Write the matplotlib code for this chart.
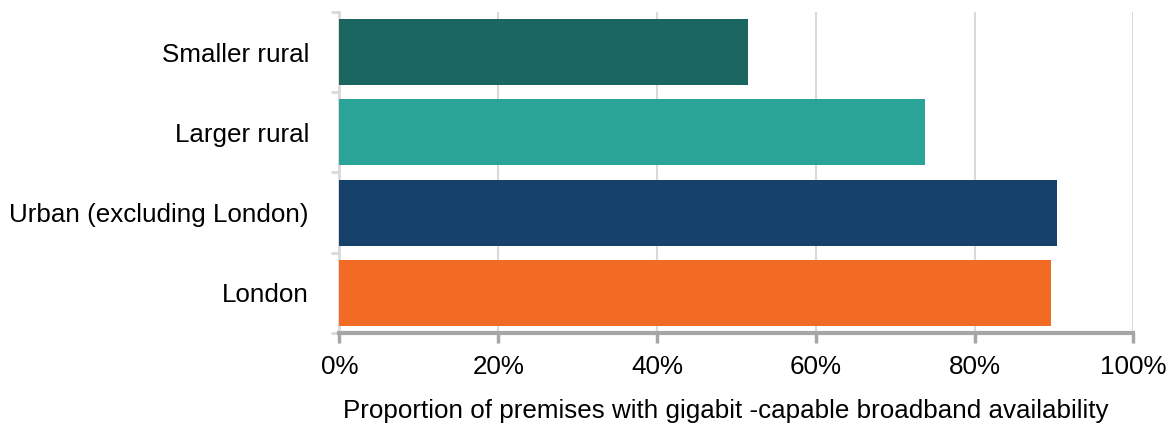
import numpy as np
import matplotlib.pyplot as plt
from matplotlib.ticker import FixedLocator, PercentFormatter

plt.rcParams['font.family'] = ['Liberation Sans', 'DejaVu Sans']

# Data (top to bottom as shown)
categories = ["Smaller rural", "Larger rural", "Urban (excluding London)", "London"]
values = [51.4, 73.7, 90.4, 89.6]
colors = ["#1b6660", "#2aa497", "#15416b", "#f26b24"]

fig = plt.figure(figsize=(11.73, 4.23), dpi=100)
ax = fig.add_axes([0.2894, 0.2128, 0.6769, 0.7589])

y = np.arange(len(categories))
ax.barh(y, values, height=0.82, color=colors, zorder=3)

ax.set_xlim(0, 100)
ax.set_ylim(len(categories) - 0.5, -0.5)

# ticks
ax.set_xticks(np.arange(0, 101, 20))
ax.xaxis.set_major_formatter(PercentFormatter(decimals=0))
ax.set_yticks(y)
ax.set_yticklabels(categories)
ax.yaxis.set_minor_locator(FixedLocator(np.arange(-0.5, len(categories), 1)))

ax.tick_params(axis='y', which='major', length=0, pad=22, labelsize=18.7)
ax.tick_params(axis='y', which='minor', length=6, width=2, color='#d9d9d9')
ax.tick_params(axis='x', which='major', length=7, width=2.5, color='#a6a6a6',
               pad=9, labelsize=18.7)

# grid + spines
ax.grid(axis='x', color='#d9d9d9', linewidth=1.5, zorder=0)
ax.spines['top'].set_visible(False)
ax.spines['right'].set_visible(False)
ax.spines['left'].set_color('#d9d9d9')
ax.spines['left'].set_linewidth(2)
ax.spines['bottom'].set_color('#a6a6a6')
ax.spines['bottom'].set_linewidth(3)
ax.spines['bottom'].set_zorder(4)

ax.set_xlabel("Proportion of premises with gigabit -capable broadband availability",
              fontsize=18.7, labelpad=14)
ax.xaxis.label.set_x(0.486)

plt.savefig("out.png", dpi=100)
